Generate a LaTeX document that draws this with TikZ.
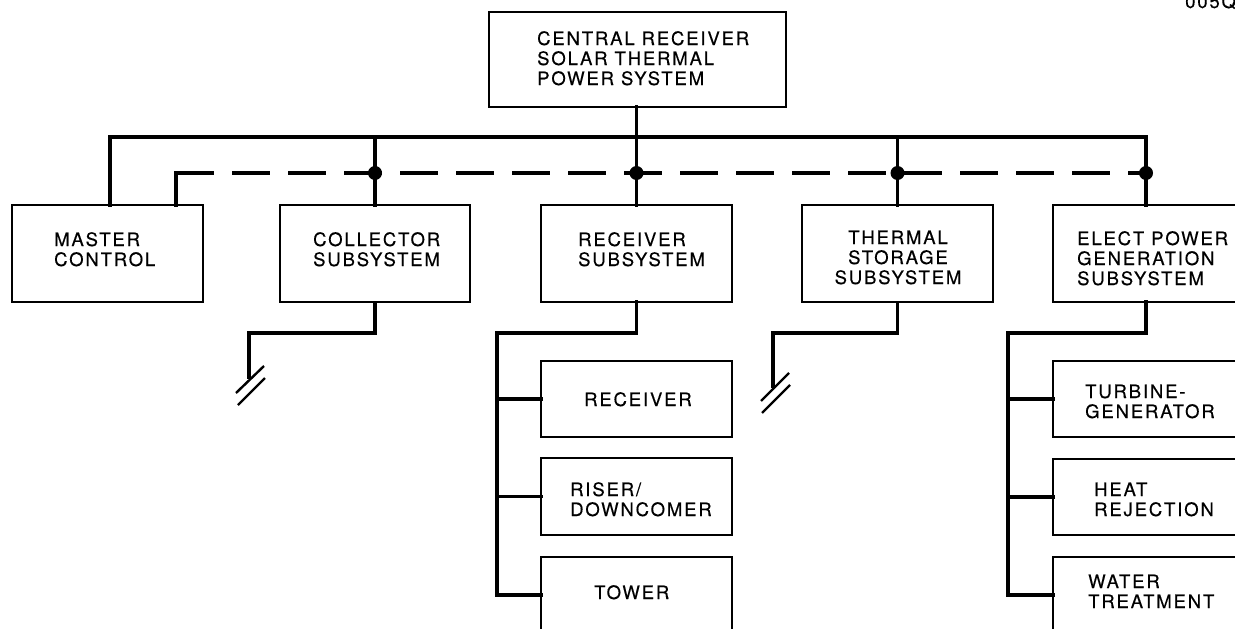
\documentclass[tikz,border=0pt]{standalone}
\usepackage{fontspec}
\newfontfamily\diagfont[LetterSpace=10,FakeBold=0.4]{TeX Gyre Heros}
\begin{document}
\begin{tikzpicture}[x=1pt,y=-1pt,
  box/.style={draw, line width=2.6pt, inner sep=0pt, outer sep=0pt},
  conn/.style={line width=3.6pt, line join=miter, line cap=rect},
  lbl/.style={font=\diagfont\fontsize{18.5pt}{20pt}\selectfont, align=left, inner sep=0pt, anchor=base west},
  dot/.style={circle, fill, inner sep=0pt, minimum size=14pt},
  brk/.style={line width=2.4pt}]
\useasboundingbox (0,0) rectangle (1235,629);
\clip (0,0) rectangle (1235,629);

% boxes
\node[box, minimum width=297pt, minimum height=95pt] (top) at (637.5,59.5) {};
\node[box, minimum width=191pt, minimum height=97pt] (master) at (107.5,253.5) {};
\node[box, minimum width=190pt, minimum height=97pt] (collector) at (375,253.5) {};
\node[box, minimum width=191pt, minimum height=97pt] (rcvsub) at (636.5,253.5) {};
\node[box, minimum width=191pt, minimum height=97pt] (thermal) at (897.5,253.5) {};
\node[box, minimum width=186pt, minimum height=97pt] (elect) at (1146,253.5) {};
\node[box, minimum width=191pt, minimum height=76pt] (receiver) at (636.5,399) {};
\node[box, minimum width=191pt, minimum height=77pt] (riser) at (636.5,496.5) {};
\node[box, minimum width=191pt, minimum height=76pt] (tower) at (636.5,595) {};
\node[box, minimum width=186pt, minimum height=76pt] (turbine) at (1146,399) {};
\node[box, minimum width=186pt, minimum height=76pt] (heat) at (1146,497) {};
\node[box, minimum width=186pt, minimum height=76pt] (water) at (1146,595) {};

% upper bus lines
\coordinate (busL) at (110,137);
\coordinate (busR) at (1146,137);
\coordinate (dashL) at (176,173);
\coordinate (dashR) at (1146,173);
\draw[conn] (master.north -| busL) -- (busL) -- (busR) -- (elect.north);
\draw[conn] (top.south -| rcvsub.north) -- (rcvsub.north);
\draw[conn] (collector.north |- busL) -- (collector.north);
\draw[conn] (thermal.north |- busL) -- (thermal.north);
\draw[conn] (master.north -| dashL) -- (dashL);
\draw[conn, line cap=butt, dash pattern=on 38pt off 18pt] (dashL) -- (dashR);
\node[dot] (j1) at (collector.north |- dashL) {};
\node[dot] (j2) at (rcvsub.north |- dashL) {};
\node[dot] (j3) at (thermal.north |- dashL) {};
\node[dot] (j4) at (dashR) {};

% collector branch, broken off
\coordinate (colbrk) at (249,379);
\draw[conn, line cap=butt] (collector.south) -- ++(0,31) -| (colbrk);
\draw[brk] ([shift={(-13,14)}]colbrk) -- ([shift={(15,-13)}]colbrk);
\draw[brk] ([shift={(-11,26)}]colbrk) -- ([shift={(16,-1)}]colbrk);

% thermal storage branch, broken off
\coordinate (thbrk) at (773,388);
\draw[conn, line cap=butt] (thermal.south) -- ++(0,31) -| (thbrk);
\draw[brk] ([shift={(-12,13)}]thbrk) -- ([shift={(16,-15)}]thbrk);
\draw[brk] ([shift={(-11,25)}]thbrk) -- ([shift={(17,-3)}]thbrk);

% receiver subsystem tree
\draw[conn] (rcvsub.south) -- ++(0,31) -| ([xshift=-44pt]tower.west) -- (tower.west);
\draw[conn] ([xshift=-44pt]receiver.west) -- (receiver.west);
\draw[conn] ([xshift=-44pt]riser.west) -- (riser.west);

% power generation tree
\draw[conn] (elect.south) -- ++(0,31) -| ([xshift=-45pt]water.west) -- (water.west);
\draw[conn] ([xshift=-45pt]turbine.west) -- (turbine.west);
\draw[conn] ([xshift=-45pt]heat.west) -- (heat.west);

% labels (anchored at the baseline of their last line)
\node[lbl] (tTop) at (537,85) {CENTRAL RECEIVER\\SOLAR THERMAL\\POWER SYSTEM};
\node[lbl] (tMaster) at (54,266) {MASTER\\CONTROL};
\node[lbl] (tCol) at (313,266) {COLLECTOR\\SUBSYSTEM};
\node[lbl] (tRcvSub) at (578,266) {RECEIVER\\SUBSYSTEM};
\node[lbl, align=center, anchor=base] (tTherm) at (898,284) {THERMAL\\STORAGE\\SUBSYSTEM};
\node[lbl] (tElect) at (1077,285) {ELECT POWER\\GENERATION\\SUBSYSTEM};
\node[lbl] (tRcv) at (584,406) {RECEIVER};
\node[lbl] (tRiser) at (570,516) {RISER/\\DOWNCOMER};
\node[lbl] (tTower) at (594,599) {TOWER};
\node[lbl] (tTurb) at (1085,418) {TURBINE-\\GENERATOR};
\node[lbl] (tHeat) at (1094,516) {HEAT\\REJECTION};
\node[lbl] (tWater) at (1088,608) {WATER\\TREATMENT};
\node[lbl] (tCode) at (1185,8) {005Q};
\end{tikzpicture}
\end{document}
